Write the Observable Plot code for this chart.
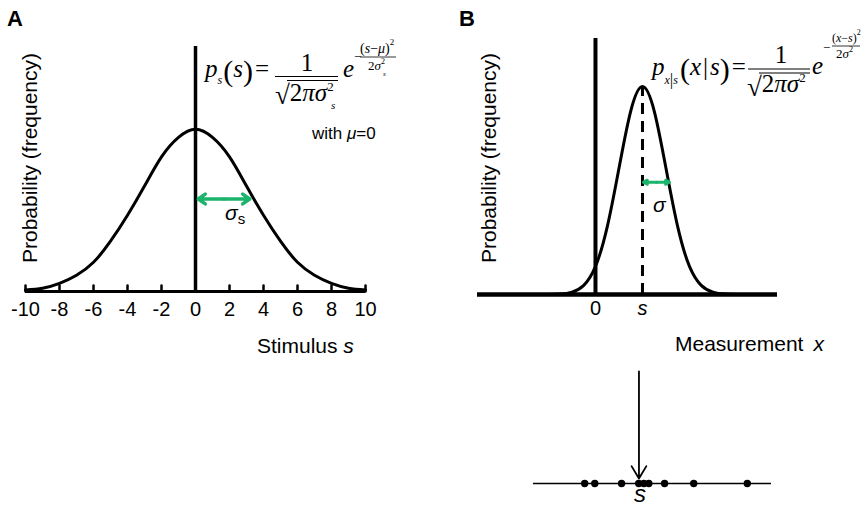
<!DOCTYPE html>
<html><head><meta charset="utf-8">
<script src="https://cdn.jsdelivr.net/npm/d3@7"></script>
<script src="https://cdn.jsdelivr.net/npm/@observablehq/plot@0.6"></script>
<style>
body{margin:0;background:#fff;}
#wrap{position:relative;width:862px;height:509px;overflow:hidden;background:#fff;}
#wrap svg{position:absolute;overflow:visible;}
</style></head><body><div id="wrap"></div>
<script>
// ---------- Panel A: prior over stimulus s ----------
const stimulusX = [-10,-9,-8,-7,-6,-5,-4,-3,-2,-1,0,1,2,3,4,5,6,7,8,9,10];
const priorDensity = [0.01,0.02,0.05,0.10,0.18,0.31,0.47,0.65,0.83,0.95,1,0.95,0.83,0.65,0.47,0.31,0.18,0.10,0.05,0.02,0.01];
const stimulusTicks = [-10,-8,-6,-4,-2,0,2,4,6,8,10];
const sigmaSArrowX = [0.16, 3.19];
const sigmaSArrowY = 0.57;

// ---------- Panel B: measurement distribution ----------
const measurementX = [-2,-1.5,-1,-0.5,0,0.5,1,1.5,2,2.5,3,3.5,4,4.5,5,5.5,6];
const likelihood = [0.0003,0.002,0.011,0.044,0.135,0.325,0.607,0.882,1,0.882,0.607,0.325,0.135,0.044,0.011,0.002,0.0003];
const trueS = 2;
const peakValue = 1;
const measurementTicks = [0, 2];
const measurementTickLabels = ["0", "s"];
const sigmaArrowX = [2.04, 3.15];
const sigmaArrowY = 0.54;

// ---------- Bottom: sampled measurements ----------
const sampleXs = [-0.46,-0.03,1.11,1.84,2.06,2.27,2.94,4.18,6.46];
const sampleArrowX = 1.85;
const sampleLineExtent = [-2.64, 7.49];

const green = "#1bb46b";
const sans = "Liberation Sans, Arial, sans-serif";
const wrap = document.getElementById("wrap");
const tickShape = {draw(ctx, l) { ctx.moveTo(0, 0); ctx.lineTo(0, -l); }};
const baseStyle = {background: "transparent", fontFamily: sans, overflow: "visible"};

function place(svg, left, top) { svg.style.left = left + "px"; svg.style.top = top + "px"; wrap.appendChild(svg); }
function doubleArrow(xs, y, opts) {
  const mid = (xs[0] + xs[1]) / 2;
  return Plot.arrow([{a: mid, b: xs[0], y}, {a: mid, b: xs[1], y}],
    {x1: "a", x2: "b", y1: "y", y2: "y", stroke: green, ...opts});
}

const plotA = Plot.plot({
  width: 430, height: 360, marginLeft: 25, marginRight: 65, marginTop: 46, marginBottom: 69,
  x: {domain: [-10, 10], axis: null},
  y: {domain: [0, 1.51], axis: null},
  style: baseStyle,
  marks: [
    Plot.line(stimulusX.map((x, i) => ({x, y: priorDensity[i]})), {x: "x", y: "y", curve: "natural", strokeWidth: 3, stroke: "#000"}),
    Plot.ruleX([0], {strokeWidth: 3.5, stroke: "#000"}),
    Plot.ruleY([0], {strokeWidth: 3.2, stroke: "#000"}),
    Plot.vector(stimulusTicks, {x: d => d, y: 0, length: 6, anchor: "start", shape: tickShape, strokeWidth: 2.5, stroke: "#000"}),
    Plot.text(stimulusTicks, {x: d => d, y: 0, text: d => String(d), lineAnchor: "top", dy: 10, fontSize: 20, fill: "#000"}),
    doubleArrow(sigmaSArrowX, sigmaSArrowY, {strokeWidth: 3.5, headLength: 12, headAngle: 70})
  ]
});
place(plotA, 0, 0);

const plotB = Plot.plot({
  width: 432, height: 360, marginLeft: 47, marginRight: 85, marginTop: 38, marginBottom: 66,
  x: {domain: [-5.02, 7.745], axis: null},
  y: {domain: [0, 1.231], axis: null},
  style: baseStyle,
  marks: [
    Plot.line(measurementX.map((x, i) => ({x, y: likelihood[i]})), {x: "x", y: "y", curve: "natural", strokeWidth: 3, stroke: "#000"}),
    Plot.ruleX([{x: trueS, y: peakValue}], {x: "x", y1: 0, y2: "y", strokeWidth: 3, strokeDasharray: "11,7", stroke: "#000"}),
    Plot.ruleX([0], {strokeWidth: 4, stroke: "#000"}),
    Plot.ruleY([0], {strokeWidth: 4.5, stroke: "#000"}),
    Plot.text(measurementTicks.slice(0, 1), {x: d => d, y: 0, text: () => measurementTickLabels[0], lineAnchor: "top", dy: 6, fontSize: 20, fill: "#000"}),
    Plot.text(measurementTicks.slice(1), {x: d => d, y: 0, text: () => measurementTickLabels[1], lineAnchor: "top", dy: 6, fontSize: 20, fontStyle: "italic", fill: "#000"}),
    doubleArrow(sigmaArrowX, sigmaArrowY, {strokeWidth: 3, headLength: 13, headAngle: 55})
  ]
});
place(plotB, 430, 0);

const plotC = Plot.plot({
  width: 432, height: 149, marginLeft: 47, marginRight: 85, marginTop: 11, marginBottom: 26,
  x: {domain: [-5.02, 7.745], axis: null},
  y: {domain: [0, 1], axis: null},
  style: baseStyle,
  marks: [
    Plot.ruleY([{y: 0, x1: sampleLineExtent[0], x2: sampleLineExtent[1]}], {y: "y", x1: "x1", x2: "x2", strokeWidth: 1.6, stroke: "#000"}),
    Plot.arrow([{x: sampleArrowX, y1: 1, y2: 0}], {x1: "x", x2: "x", y1: "y1", y2: "y2", insetEnd: 5, stroke: "#000", strokeWidth: 1.8, headLength: 12, headAngle: 62}),
    Plot.dot(sampleXs, {x: d => d, y: 0, r: 3.7, fill: "#000", stroke: "none"})
  ]
});
place(plotC, 430, 360);

// ---------- Text annotations ----------
const serif = "Liberation Serif, Times New Roman, serif";
const overlay = `
<svg width="862" height="509" style="left:0;top:0" font-family="${sans}" fill="#000">
  <text x="7" y="26" font-size="22" font-weight="bold">A</text>
  <text x="459" y="26" font-size="22" font-weight="bold">B</text>
  <text transform="translate(37,158) rotate(-90)" text-anchor="middle" font-size="21">Probability (frequency)</text>
  <text transform="translate(496,158) rotate(-90)" text-anchor="middle" font-size="21">Probability (frequency)</text>
  <text x="257" y="353" font-size="21">Stimulus <tspan font-style="italic">s</tspan></text>
  <text x="675" y="351" font-size="21">Measurement<tspan dx="10" font-style="italic">x</tspan></text>
  <text x="312" y="139" font-size="17">with <tspan font-style="italic">μ</tspan>=0</text>
  <text x="225" y="220" font-size="21" font-style="italic">σ<tspan font-size="15" font-style="normal" dy="4">s</tspan></text>
  <text x="653" y="212" font-size="21" font-style="italic">σ</text>
  <text x="640" y="502" text-anchor="middle" font-size="24" font-style="italic">s</text>
  <g font-family="${serif}">
    <text x="205" y="77" font-size="25"><tspan font-style="italic">p</tspan><tspan font-size="12" font-style="italic" dy="7">s</tspan><tspan font-size="30" dy="-3" dx="1">(</tspan><tspan font-style="italic" dy="-4">s</tspan><tspan font-size="30" dy="4">)</tspan><tspan dy="-4" dx="2">=</tspan></text>
    <line x1="275" x2="338" y1="76.5" y2="76.5" stroke="#000" stroke-width="1.2"/>
    <text x="307" y="71" font-size="25" text-anchor="middle">1</text>
    <text x="275" y="104" font-size="27">√<tspan font-size="25" dy="-3">2</tspan><tspan font-size="25" font-style="italic">πσ</tspan><tspan font-size="13" dy="-10">2</tspan></text>
    <line x1="287" x2="338" y1="80.5" y2="80.5" stroke="#000" stroke-width="1.1"/>
    <text x="331" y="109" font-size="11" font-style="italic">s</text>
    <text x="343" y="77" font-size="25" font-style="italic">e<tspan font-style="normal" font-size="13" dy="-16">−</tspan></text>
    <line x1="360" x2="396" y1="57" y2="57" stroke="#000" stroke-width="0.8"/>
    <text x="360" y="53" font-size="14">(<tspan font-style="italic">s</tspan>−<tspan font-style="italic">μ</tspan>)<tspan font-size="9" dy="-8">2</tspan></text>
    <text x="368" y="70" font-size="13">2<tspan font-style="italic">σ</tspan><tspan font-size="8" dy="-6">2</tspan></text>
    <text x="383" y="76" font-size="7" font-style="italic">s</text>

    <text x="652" y="75" font-size="25"><tspan font-style="italic">p</tspan><tspan font-size="12" font-style="italic" dy="9">x</tspan><tspan font-size="17" dy="1">|</tspan><tspan font-size="12" font-style="italic" dy="-1">s</tspan><tspan font-size="30" dy="-5" dx="2">(</tspan><tspan font-style="italic" dy="-4">x</tspan><tspan dx="2">|</tspan><tspan font-style="italic" dx="2">s</tspan><tspan font-size="30" dy="4">)</tspan><tspan dy="-4" dx="2">=</tspan></text>
    <line x1="748" x2="810" y1="69" y2="69" stroke="#000" stroke-width="1.2"/>
    <text x="781" y="63" font-size="25" text-anchor="middle">1</text>
    <text x="747" y="96" font-size="27">√<tspan font-size="25" dy="-4">2</tspan><tspan font-size="25" font-style="italic">πσ</tspan><tspan font-size="13" dy="-10">2</tspan></text>
    <line x1="759" x2="810" y1="73" y2="73" stroke="#000" stroke-width="1.1"/>
    <text x="812" y="74" font-size="25" font-style="italic">e<tspan font-style="normal" font-size="13" dy="-22">−</tspan></text>
    <line x1="832" x2="860" y1="46" y2="46" stroke="#000" stroke-width="0.8"/>
    <text x="832" y="42" font-size="12">(<tspan font-style="italic">x</tspan>−<tspan font-style="italic">s</tspan>)<tspan font-size="8" dy="-7">2</tspan></text>
    <text x="836" y="58" font-size="13">2<tspan font-style="italic">σ</tspan><tspan font-size="8" dy="-6">2</tspan></text>
  </g>
</svg>`;
wrap.insertAdjacentHTML("beforeend", overlay);
</script>
</body></html>
